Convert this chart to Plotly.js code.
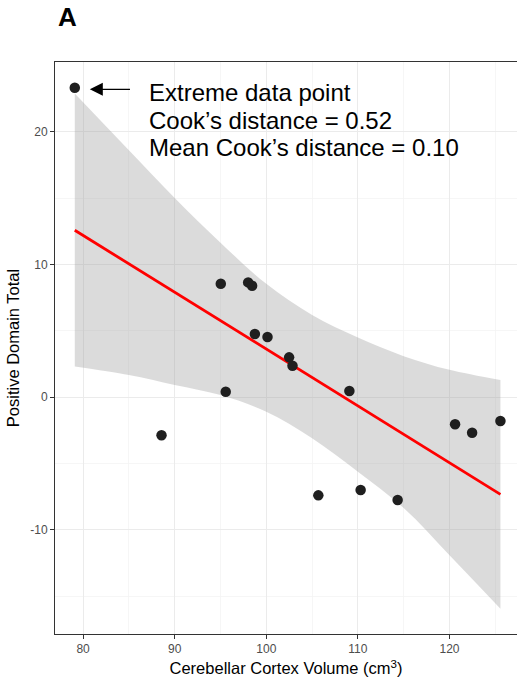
<!DOCTYPE html>
<html>
<head>
<meta charset="utf-8">
<script src="https://cdn.plot.ly/plotly-3.0.1.min.js"></script>
<style>html,body{margin:0;padding:0;background:#fff;}#chart{width:517px;height:679px;}</style>
</head>
<body>
<div id="chart"></div>
<script>
// Data
const volume = [79.09, 88.56, 95.03, 98.02, 98.45, 98.75, 100.13, 102.49, 102.86, 95.57, 109.07, 120.61, 122.47, 125.56, 105.68, 110.30, 114.34];
const positiveTotal = [23.33, -2.86, 8.56, 8.66, 8.41, 4.77, 4.54, 3.01, 2.38, 0.42, 0.47, -2.03, -2.67, -1.79, -7.39, -6.99, -7.74];

// Confidence band
const bandX = [79.09, 85, 90, 95, 100, 105, 110, 115, 120, 125.56];
const bandUpper = [22.90, 18.62, 15.02, 11.65, 8.55, 6.20, 4.50, 3.10, 2.07, 1.30];
const bandLower = [2.32, 1.68, 0.93, 0.17, -1.09, -3.09, -5.61, -8.35, -11.90, -15.93];

const xTickVals = [80, 90, 100, 110, 120];
const yTickVals = [-10, 0, 10, 20];

const annotationLines = ["Extreme data point", "Cook\u2019s distance = 0.52", "Mean Cook\u2019s distance = 0.10"];

// least squares fit of the points
const n = volume.length;
const mx = volume.reduce((a, b) => a + b, 0) / n;
const my = positiveTotal.reduce((a, b) => a + b, 0) / n;
let sxy = 0, sxx = 0;
for (let i = 0; i < n; i++) { sxy += (volume[i] - mx) * (positiveTotal[i] - my); sxx += (volume[i] - mx) ** 2; }
const slope = sxy / sxx, intercept = my - slope * mx;
const xmin = Math.min(...volume), xmax = Math.max(...volume);

const font = "Liberation Sans, Arial, Helvetica, sans-serif";

const traces = [
  {
    x: bandX, y: bandLower, type: 'scatter', mode: 'lines',
    line: {width: 0, shape: 'spline', smoothing: 1}, hoverinfo: 'skip', showlegend: false
  },
  {
    x: bandX, y: bandUpper, type: 'scatter', mode: 'lines', fill: 'tonexty',
    fillcolor: 'rgba(153,153,153,0.35)', line: {width: 0, shape: 'spline', smoothing: 1}, hoverinfo: 'skip', showlegend: false
  },
  {
    x: [xmin, xmax], y: [intercept + slope * xmin, intercept + slope * xmax],
    type: 'scatter', mode: 'lines', line: {color: '#ff0000', width: 2.8}, showlegend: false
  },
  {
    x: volume, y: positiveTotal, type: 'scatter', mode: 'markers',
    marker: {color: '#1f1f1f', size: 10.5}, showlegend: false
  }
];

const axisCommon = {
  showline: true, mirror: true, linecolor: '#333333', linewidth: 1,
  ticks: 'outside', ticklen: 4, tickcolor: '#333333', tickwidth: 1,
  tickfont: {family: font, size: 12, color: '#4d4d4d'},
  showgrid: true, gridcolor: '#ebebeb', gridwidth: 1, zeroline: false,
  tickmode: 'array'
};

// per-line annotation y positions (data units) for the three text lines
const lineY = [22.98, 20.88, 18.84];

const textAnnotations = annotationLines.map((t, i) => ({
  x: 87.0, y: lineY[i], xref: 'x', yref: 'y', xanchor: 'left', yanchor: 'middle', align: 'left',
  text: t, showarrow: false, font: {family: font, size: 24, color: '#000'}
}));

const layout = {
  width: 517, height: 679,
  margin: {l: 55, r: 0, t: 62, b: 45},
  paper_bgcolor: '#ffffff', plot_bgcolor: '#ffffff',
  title: {text: '<b>A</b>', font: {family: font, size: 26, color: '#000'}, xref: 'container', yref: 'container', x: 58/517, xanchor: 'left', y: 1 - 8/679, yanchor: 'top'},
  xaxis: Object.assign({}, axisCommon, {
    range: [76.93, 127.37], tickvals: xTickVals, ticktext: xTickVals.map(String),
    minor: {tickvals: [85, 95, 105, 115, 125], showgrid: true, gridcolor: '#f4f4f4', gridwidth: 0.8, ticks: ''},
    title: {text: 'Cerebellar Cortex Volume (cm<sup>3</sup>)', font: {family: font, size: 16.5, color: '#000'}, standoff: 7}
  }),
  yaxis: Object.assign({}, axisCommon, {
    range: [-17.84, 25.27], tickvals: yTickVals, ticktext: yTickVals.map(String),
    minor: {tickvals: [-15, -5, 5, 15], showgrid: true, gridcolor: '#f4f4f4', gridwidth: 0.8, ticks: ''},
    title: {text: 'Positive Domain Total', font: {family: font, size: 16.5, color: '#000'}, standoff: 6}
  }),
  annotations: textAnnotations.concat([
    {
      x: 80.73, y: 23.21, ax: 85.28, ay: 23.21, xref: 'x', yref: 'y', axref: 'x', ayref: 'y',
      text: '', showarrow: true, arrowhead: 2, arrowsize: 2, arrowwidth: 1.3, arrowcolor: '#000'
    }
  ])
};

Plotly.newPlot('chart', traces, layout, {displayModeBar: false, staticPlot: true});
</script>
</body>
</html>
